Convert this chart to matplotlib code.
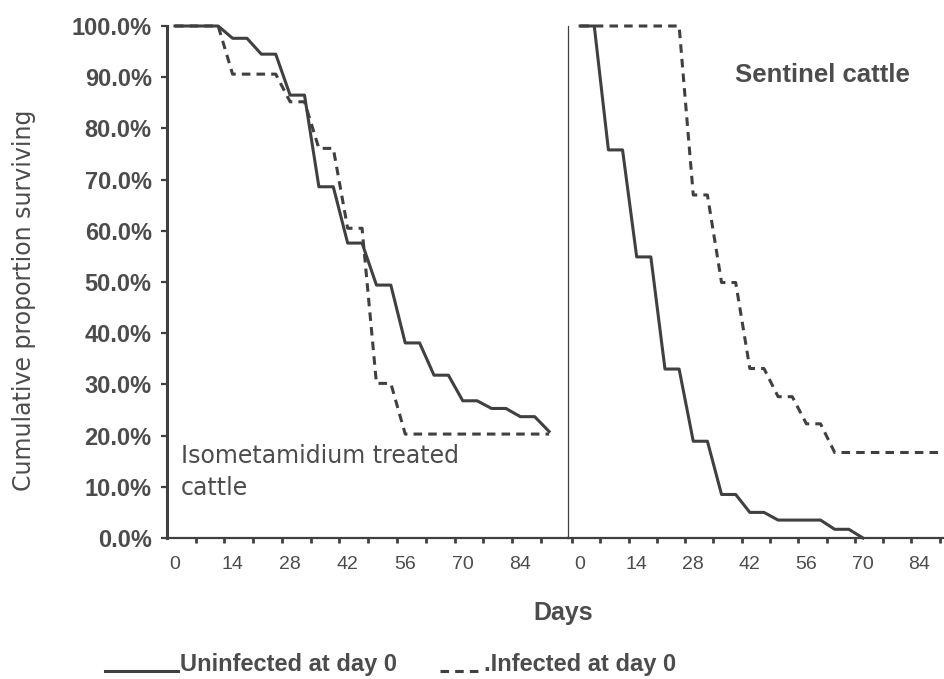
import matplotlib
matplotlib.use('Agg')
import matplotlib.pyplot as plt
from matplotlib.lines import Line2D

# Isometamidium treated cattle (left panel)
treated_days_uninf = [0, 10.5, 14, 17.5, 21, 24.5, 28, 31.5, 35, 38.5, 42, 45.5, 49, 52.5,
                      56, 59.5, 63, 66.5, 70, 73.5, 77, 80.5, 84, 87.5, 91]
treated_surv_uninf = [100, 100, 97.6, 97.6, 94.5, 94.5, 86.5, 86.5, 68.6, 68.6, 57.6, 57.6,
                      49.4, 49.4, 38.1, 38.1, 31.8, 31.8, 26.8, 26.8, 25.3, 25.3, 23.7, 23.7, 20.8]
treated_days_inf = [0, 10.5, 14, 24.5, 28, 31.5, 35, 38.5, 42, 45.5, 49, 52.5, 56, 91]
treated_surv_inf = [100, 100, 90.6, 90.6, 85.2, 85.2, 76.1, 76.1, 60.5, 60.5, 30.2, 30.2, 20.3, 20.3]

# Sentinel cattle (right panel)
sentinel_days_uninf = [0, 3.5, 7, 10.5, 14, 17.5, 21, 24.5, 28, 31.5, 35, 38.5, 42, 45.5,
                       49, 59.5, 63, 66.5, 70]
sentinel_surv_uninf = [100, 100, 75.8, 75.8, 54.9, 54.9, 33.0, 33.0, 18.9, 18.9, 8.5, 8.5,
                       5.0, 5.0, 3.5, 3.5, 1.7, 1.7, 0]
sentinel_days_inf = [0, 24.5, 28, 31.5, 35, 38.5, 42, 45.5, 49, 52.5, 56, 59.5, 63, 90]
sentinel_surv_inf = [100, 100, 67.0, 67.0, 49.9, 49.9, 33.1, 33.1, 27.6, 27.6, 22.3, 22.3, 16.7, 16.7]

day_labels = [0, 14, 28, 42, 56, 70, 84]
pct_ticks = [0, 10, 20, 30, 40, 50, 60, 70, 80, 90, 100]

LINE = '#404040'
TEXT = '#4c4c4c'
FONT = 'Liberation Sans'
WIDE = 'DejaVu Sans'   # wider face for the letter-spaced regular labels
DASH = (0, (2.8, 2.0))

W, H = 945, 679
fig = plt.figure(figsize=(W / 100, H / 100), dpi=100)
fig.set_facecolor('white')

ax1 = fig.add_axes([167 / W, (H - 538) / H, (568 - 167) / W, 512 / H])
ax2 = fig.add_axes([568 / W, (H - 538) / H, (W - 568) / W, 512 / H])

ax1.plot(treated_days_uninf, treated_surv_uninf, color=LINE, lw=2.2, clip_on=False)
ax1.plot(treated_days_inf, treated_surv_inf, color=LINE, lw=2.2, ls=DASH, clip_on=False)
ax2.plot(sentinel_days_uninf, sentinel_surv_uninf, color=LINE, lw=2.2, clip_on=False)
ax2.plot(sentinel_days_inf, sentinel_surv_inf, color=LINE, lw=2.2, ls=DASH, clip_on=False)

for ax, lims in ((ax1, (-1.95, 95.6)), (ax2, (-3.0, 90.3))):
    ax.spines['top'].set_visible(False)
    ax.spines['right'].set_visible(False)
    ax.spines['bottom'].set_color(LINE)
    ax.spines['bottom'].set_linewidth(1.6)
    ax.spines['left'].set_color(LINE)
    ax.set_xticks(day_labels)
    ax.set_xticklabels([str(d) for d in day_labels], fontname=FONT, fontsize=14, color=TEXT)
    ax.set_xticks([d for d in range(-2, 97, 7) if lims[0] <= d <= lims[1]], minor=True)
    ax.tick_params(axis='x', which='major', length=0, pad=13)
    ax.tick_params(axis='x', which='minor', length=3.5, width=2, color=LINE, direction='out')
    ax.set_xlim(*lims)
    ax.set_ylim(0, 100)

ax1.spines['left'].set_linewidth(2.2)
ax2.spines['left'].set_linewidth(0.9)

ax1.set_yticks(pct_ticks)
ax1.set_yticklabels([f'{p:.1f}%' for p in pct_ticks], fontname=FONT, fontsize=17,
                    fontweight='bold', color=TEXT)
ax1.tick_params(axis='y', length=4, width=1.6, color=LINE, direction='out', pad=7)
ax2.set_yticks([])
ax1.set_ylim(0, 100)

# va='baseline' on a two-line text anchors the last line
ax1.text(0.035, 0.084, 'Isometamidium treated\ncattle', transform=ax1.transAxes,
         fontname=WIDE, fontsize=17, color=TEXT, va='baseline', ha='left', linespacing=1.43)
ax2.text(0.443, 0.891, 'Sentinel cattle', transform=ax2.transAxes,
         fontname=FONT, fontsize=18.5, fontweight='bold', color=TEXT, va='baseline', ha='left')

fig.text(24 / W, 1 - 300 / H, 'Cumulative proportion surviving', rotation=90,
         fontname=WIDE, fontsize=17, color=TEXT, ha='center', va='center')
fig.text(563 / W, 1 - 613 / H, 'Days', fontname=FONT, fontsize=18, fontweight='bold',
         color=TEXT, ha='center', va='center')

# legend drawn by hand, sample lines sit on the text baseline
base = 1 - 671 / H
fig.add_artist(Line2D([105 / W, 178 / W], [base, base], color=LINE, lw=2.2))
fig.text(180 / W, base, 'Uninfected at day 0', fontname=FONT, fontsize=17,
         fontweight='bold', color=TEXT, va='baseline')
fig.add_artist(Line2D([440 / W, 484 / W], [base, base], color=LINE, lw=2.2, ls=DASH))
fig.text(484 / W, base, '.Infected at day 0', fontname=FONT, fontsize=17,
         fontweight='bold', color=TEXT, va='baseline')

fig.savefig('out.png', dpi=100, facecolor='white')
